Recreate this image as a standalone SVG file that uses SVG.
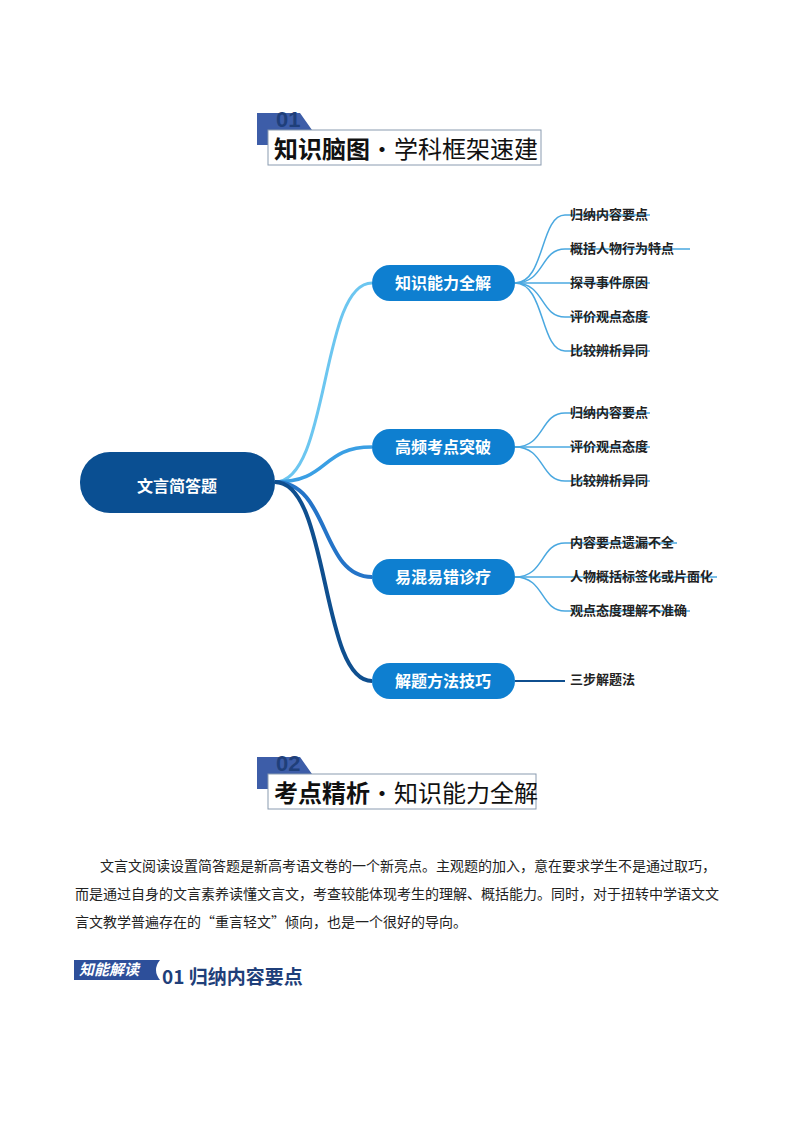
<svg xmlns="http://www.w3.org/2000/svg" width="794" height="1123" viewBox="0 0 794 1123">
<style>
.hd{font-family:"Noto Sans CJK SC",sans-serif;font-size:24px;fill:#111}
.num{font-family:"Liberation Sans",sans-serif;font-weight:bold;font-size:22px;fill:#1f3f7a}
.nd{fill:#0e7fd0}
.nt{font-family:"Noto Sans CJK SC",sans-serif;font-size:16px;font-weight:bold;fill:#fff;text-anchor:middle}
.lf{font-family:"Noto Sans CJK SC",sans-serif;font-size:13px;font-weight:bold;fill:#222}
.ll{fill:none;stroke:#4aa8e0;stroke-width:1.5}
.p{font-family:"Noto Sans CJK SC",sans-serif;font-size:14px;fill:#222}
</style>
<g id="header1">
<path d="M257 113 H300 L312 130 H268 V145 H257 Z" fill="#3d5da8"/>
<text x="276" y="127" class="num">01</text>
<rect x="268" y="130" width="273" height="35" fill="#fff" stroke="#8a9bb0"/>
<text x="274" y="158" class="hd" font-weight="bold">知识脑图<tspan font-weight="normal">·学科框架速建</tspan></text>
</g>
<g id="connectors">
<path d="M275 482 C330 482 320 283 372 283" fill="none" stroke="#6cc6f0" stroke-width="3"/>
<path d="M275 482 C330 482 320 447 372 447" fill="none" stroke="#3a9fe4" stroke-width="3.5"/>
<path d="M275 482 C330 482 320 577 372 577" fill="none" stroke="#2474c8" stroke-width="4"/>
<path d="M275 482 C330 482 320 681 372 681" fill="none" stroke="#0f4f8f" stroke-width="4"/>
<path class="ll" d="M515 283 C545 283 540 215 565 215 H650"/>
<path class="ll" d="M515 283 C545 283 540 249 565 249 H690"/>
<path class="ll" d="M515 283 H650"/>
<path class="ll" d="M515 283 C545 283 540 317 565 317 H650"/>
<path class="ll" d="M515 283 C545 283 540 351 565 351 H650"/>
<path class="ll" d="M515 447 C545 447 540 413 565 413 H650"/>
<path class="ll" d="M515 447 H650"/>
<path class="ll" d="M515 447 C545 447 540 481 565 481 H650"/>
<path class="ll" d="M515 577 C545 577 540 543 565 543 H677"/>
<path class="ll" d="M515 577 H717"/>
<path class="ll" d="M515 577 C545 577 540 611 565 611 H690"/>
<path d="M515 681 H565" stroke="#0f4f8f" stroke-width="2"/>
</g>
<g id="root"><rect x="80" y="452" width="195" height="61" rx="30" fill="#0a4f92"/><text x="177" y="492" class="nt" font-size="28">文言简答题</text></g>
<g id="n1"><rect x="372" y="265" width="143" height="36" rx="18" class="nd"/><text x="443" y="289" class="nt">知识能力全解</text></g>
<g id="n2"><rect x="372" y="429" width="143" height="36" rx="18" class="nd"/><text x="443" y="453" class="nt">高频考点突破</text></g>
<g id="n3"><rect x="372" y="559" width="143" height="36" rx="18" class="nd"/><text x="443" y="583" class="nt">易混易错诊疗</text></g>
<g id="n4"><rect x="372" y="663" width="143" height="36" rx="18" class="nd"/><text x="443" y="687" class="nt">解题方法技巧</text></g>
<g id="leaves">
<text x="570" y="219" class="lf">归纳内容要点</text>
<text x="570" y="253" class="lf">概括人物行为特点</text>
<text x="570" y="287" class="lf">探寻事件原因</text>
<text x="570" y="321" class="lf">评价观点态度</text>
<text x="570" y="355" class="lf">比较辨析异同</text>
<text x="570" y="417" class="lf">归纳内容要点</text>
<text x="570" y="451" class="lf">评价观点态度</text>
<text x="570" y="485" class="lf">比较辨析异同</text>
<text x="570" y="547" class="lf">内容要点遗漏不全</text>
<text x="570" y="581" class="lf">人物概括标签化或片面化</text>
<text x="570" y="615" class="lf">观点态度理解不准确</text>
<text x="570" y="684" class="lf">三步解题法</text>
</g>
<g id="header2">
<path d="M257 757 H300 L312 774 H268 V789 H257 Z" fill="#3d5da8"/>
<text x="276" y="771" class="num">02</text>
<rect x="268" y="774" width="268" height="35" fill="#fff" stroke="#8a9bb0"/>
<text x="274" y="802" class="hd" font-weight="bold">考点精析<tspan font-weight="normal">·知识能力全解</tspan></text>
</g>
<g id="para">
<text x="100" y="871" class="p">文言文阅读设置简答题是新高考语文卷的一个新亮点。主观题的加入，意在要求学生不是通过取巧，</text>
<text x="75" y="899" class="p">而是通过自身的文言素养读懂文言文，考查较能体现考生的理解、概括能力。同时，对于扭转中学语文文</text>
<text x="75" y="927" class="p">言文教学普遍存在的“重言轻文”倾向，也是一个很好的导向。</text>
</g>
<g id="sub">
<path d="M74 960 H160 Q152 970 160 980 H74 Z" fill="#2d4f9a"/>
<text x="79" y="975" font-family="Noto Sans CJK SC,sans-serif" font-size="15" font-weight="bold" fill="#fff" font-style="italic">知能解读</text>
<text x="162" y="984" font-family="Noto Sans CJK SC,sans-serif" font-size="19" fill="#1f3f7a" font-weight="bold">01 归纳内容要点</text>
</g>
</svg>
